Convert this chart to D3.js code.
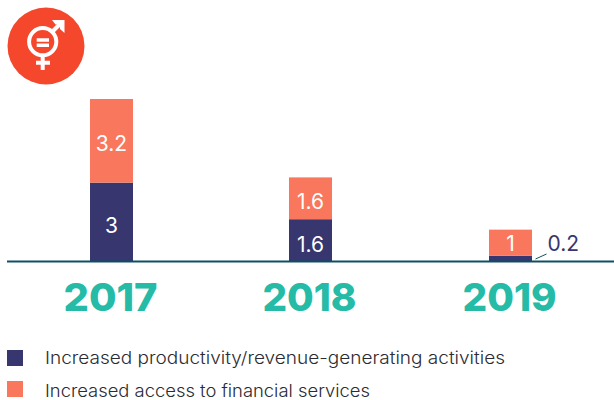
<!DOCTYPE html>
<html><head><meta charset="utf-8">
<script src="https://cdn.jsdelivr.net/npm/d3@7"></script>
<style>html,body{margin:0;padding:0;background:#fff}svg{display:block}</style></head>
<body><svg id="c" width="614" height="400"></svg>
<script>
const years = ["2017","2018","2019"];
const productivity = [3,1.6,0.2];
const finance = [3.2,1.6,1];
const productivityLabels = ["3","1.6","0.2"];
const financeLabels = ["3.2","1.6","1"];
const legendLabels = ["Increased productivity/revenue-generating activities","Increased access to financial services"];
const navy="#38366f", coral="#f9775c", teal="#25bba6", axisCol="#0f4f66", red="#f4472c";
const font="Inter, 'Open Sans', sans-serif";

const svg=d3.select("#c");
const x=d3.scaleBand().domain(years).range([11.6,610.1]).paddingInner(0.534).paddingOuter(0.267);
const y=d3.scaleLinear().domain([0,6.2]).range([261,99]);
const bw=43;
const cx=d=>Math.floor(x(d)+x.bandwidth()/2)+0.5;
const financeNudge=[3,3,0.5], productivityNudge=[4,4,0];

years.forEach((yr,i)=>{
  const c=cx(yr);
  svg.append("rect").attr("x",c-bw/2).attr("width",bw).attr("y",y(productivity[i])).attr("height",y(0)-y(productivity[i])).attr("fill",navy);
  svg.append("rect").attr("x",c-bw/2).attr("width",bw).attr("y",y(productivity[i]+finance[i])).attr("height",y(productivity[i])-y(productivity[i]+finance[i])).attr("fill",coral);
  svg.append("text").attr("x",c).attr("y",(y(productivity[i]+finance[i])+y(productivity[i]))/2+7.5+financeNudge[i])
    .attr("text-anchor","middle").attr("font-family",font).attr("font-size",21).attr("fill","#fff").text(financeLabels[i]);
  if(productivity[i]>=1){
    svg.append("text").attr("x",c).attr("y",(y(productivity[i])+y(0))/2+7.5+productivityNudge[i])
      .attr("text-anchor","middle").attr("font-family",font).attr("font-size",21).attr("fill","#fff").text(productivityLabels[i]);
  } else {
    svg.append("text").attr("y",251).attr("text-anchor","start")
      .attr("x",c+37).attr("font-family",font).attr("font-size",21).attr("fill",navy).text(productivityLabels[i]);
    svg.append("line").attr("x1",c+25).attr("y1",259).attr("x2",c+36).attr("y2",254).attr("stroke",axisCol).attr("stroke-width",1);
  }
  svg.append("text").attr("x",c-1).attr("y",311).attr("text-anchor","middle").attr("font-family",font)
    .attr("font-weight",800).attr("font-size",38.5).attr("textLength",94).attr("lengthAdjust","spacingAndGlyphs").attr("fill",teal).text(yr);
});

svg.append("line").attr("x1",7).attr("x2",614).attr("y1",y(0)+0.5).attr("y2",y(0)+0.5).attr("stroke",axisCol).attr("stroke-width",2.2);

[navy,coral].forEach((col,i)=>{
  const top=[350,381][i];
  svg.append("rect").attr("x",7).attr("y",top).attr("width",16).attr("height",16).attr("fill",col);
  svg.append("text").attr("x",45).attr("y",top+[14,16][i]).attr("font-family",font).attr("font-weight",300).attr("font-size",17)
    .attr("fill","#2b2b33").attr("textLength",i==0?460:325).attr("lengthAdjust","spacingAndGlyphs").text(legendLabels[i]);
});

// Goal 5 icon
const ic=svg.append("g");
ic.append("circle").attr("cx",46).attr("cy",46).attr("r",38.5).attr("fill",red);
ic.append("circle").attr("cx",42.7).attr("cy",41.7).attr("r",13.6).attr("fill","none").attr("stroke","#fff").attr("stroke-width",4);
ic.append("path").attr("d","M36.7,38.3h12.3v3.4h-12.3zM36.7,43.5h12.3v3.4h-12.3z").attr("fill","#fff");
ic.append("path").attr("d","M42.7,55V70M36,62.7H50").attr("stroke","#fff").attr("stroke-width",4).attr("fill","none");
ic.append("path").attr("d","M52,32L60,24").attr("stroke","#fff").attr("stroke-width",4).attr("fill","none");
ic.append("path").attr("d","M52,20H64.5V33L60,29V24.5H55.5Z").attr("fill","#fff");
</script></body></html>
